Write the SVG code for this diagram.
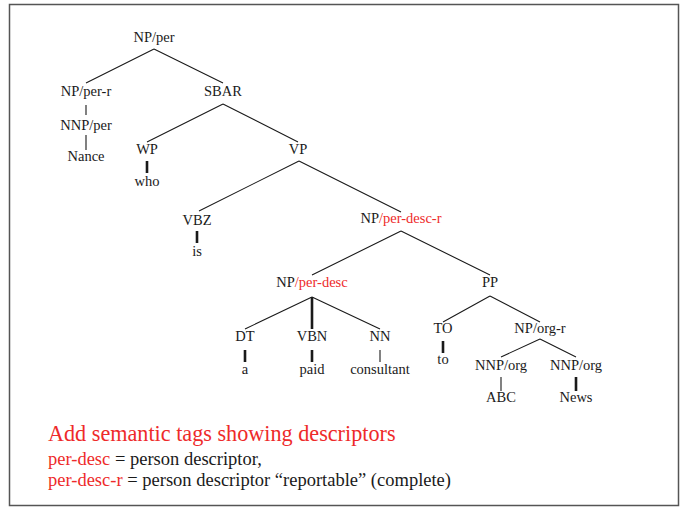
<svg xmlns="http://www.w3.org/2000/svg" width="686" height="508" viewBox="0 0 686 508">
<style>
text{font-family:"Liberation Serif","Times New Roman",serif;fill:#1a1a1a}
.n{font-size:14.5px;text-anchor:middle}
.r{fill:#ee2a2a}
.e{stroke:#1a1a1a;stroke-width:1.1;fill:none}
.t{stroke:#1a1a1a;stroke-width:2.6;fill:none}
.cap{font-size:22.2px}
.leg{font-size:18.5px}
</style>
<rect x="9.5" y="4.5" width="669" height="501" fill="#fff" stroke="#555" stroke-width="1.5"/>
<g id="connectors">
<path class="e" d="M154 49L86 83M154 49L223 83"/>
<path class="e" d="M86 105V115M86 135V150"/>
<path class="e" d="M223 104L147 142M223 104L298 142"/>
<path class="t" d="M147 161V173"/>
<path class="e" d="M299 161L199 211M299 161L401 212"/>
<path class="t" d="M197 231V243"/>
<path class="e" d="M401 231L312 275M401 231L490 275"/>
<path class="e" d="M312 297L245 329M312 297L380 329"/>
<path class="t" d="M312 297V329"/>
<path class="t" d="M245 350V362M312 350V362"/>
<path class="e" d="M380 350V362"/>
<path class="e" d="M490 296L443 322M490 296L540 322"/>
<path class="t" d="M443 341V353"/>
<path class="e" d="M540 339L501 357M540 339L576 357"/>
<path class="e" d="M501 377V391"/>
<path class="t" d="M576 377V391"/>
</g>
<g id="np-per"><text class="n" x="154" y="42">NP/per</text></g>
<g id="np-per-r"><text class="n" x="86" y="96">NP/per-r</text></g>
<g id="nnp-per"><text class="n" x="86" y="130">NNP/per</text></g>
<g id="nance"><text class="n" x="86" y="161">Nance</text></g>
<g id="sbar"><text class="n" x="223" y="96">SBAR</text></g>
<g id="wp"><text class="n" x="147" y="154">WP</text></g>
<g id="who"><text class="n" x="147" y="186">who</text></g>
<g id="vp"><text class="n" x="298" y="154">VP</text></g>
<g id="vbz"><text class="n" x="197" y="225">VBZ</text></g>
<g id="is"><text class="n" x="197" y="256">is</text></g>
<g id="np-per-desc-r"><text class="n" x="401" y="223">NP<tspan class="r">/per-desc-r</tspan></text></g>
<g id="np-per-desc"><text class="n" x="312" y="287">NP<tspan class="r">/per-desc</tspan></text></g>
<g id="dt"><text class="n" x="245" y="341">DT</text></g>
<g id="vbn"><text class="n" x="312" y="341">VBN</text></g>
<g id="nn"><text class="n" x="380" y="341">NN</text></g>
<g id="a"><text class="n" x="245" y="374">a</text></g>
<g id="paid"><text class="n" x="312" y="374">paid</text></g>
<g id="consultant"><text class="n" x="380" y="374">consultant</text></g>
<g id="pp"><text class="n" x="490" y="287">PP</text></g>
<g id="to-tag"><text class="n" x="443" y="333">TO</text></g>
<g id="to"><text class="n" x="443" y="364">to</text></g>
<g id="np-org-r"><text class="n" x="540" y="333">NP/org-r</text></g>
<g id="nnp-org-1"><text class="n" x="501" y="370">NNP/org</text></g>
<g id="nnp-org-2"><text class="n" x="576" y="370">NNP/org</text></g>
<g id="abc"><text class="n" x="501" y="402">ABC</text></g>
<g id="news"><text class="n" x="576" y="402">News</text></g>
<g id="legend">
<text class="cap r" x="48" y="441">Add semantic tags showing descriptors</text>
<text class="leg" x="48" y="465"><tspan class="r">per-desc</tspan> = person descriptor,</text>
<text class="leg" x="48" y="486"><tspan class="r">per-desc-r</tspan> = person descriptor “reportable” (complete)</text>
</g>
</svg>
